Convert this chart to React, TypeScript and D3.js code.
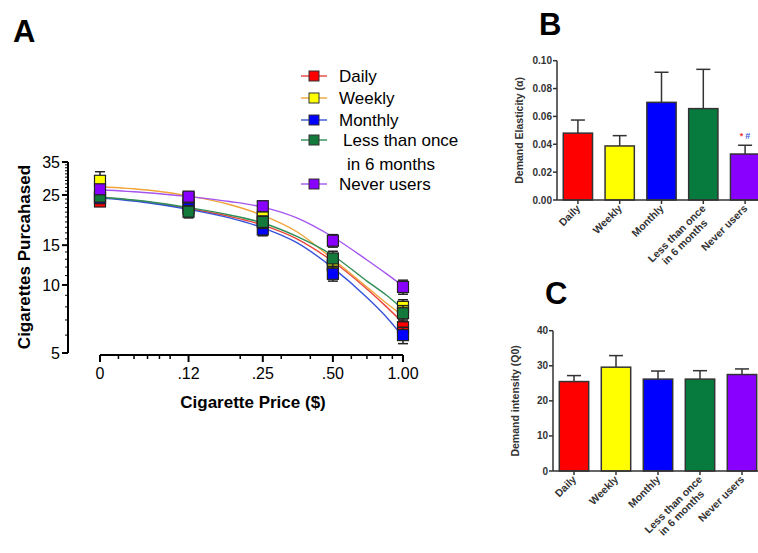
import React from 'react';
import * as d3 from 'd3';

// group names and colours
const groups = ['Daily', 'Weekly', 'Monthly', 'Less than once in 6 months', 'Never users'];
const markerFill = ['#ff0000', '#ffff00', '#0000ff', '#137a3c', '#8a00ff'];
const curveColor = ['#e8453c', '#f0a43a', '#3553d6', '#2f8f55', '#a455f0'];
const barFill = ['#ff0000', '#ffff00', '#0000ff', '#077a3e', '#8a00ff'];

// panel A: observed purchases (means + SEM) at each price
const prices = [0, 0.12, 0.25, 0.5, 1.0];
const priceLabels = ['0', '.12', '.25', '.50', '1.00'];
const dailyPts = [23.4, 22.6, 19.6, 12.3, 6.5];
const weeklyPts = [28.9, 24.3, 20.0, 12.2, 8.0];
const monthlyPts = [24.2, 21.8, 17.6, 11.2, 6.0];
const lessPts = [24.6, 21.1, 19.0, 13.1, 7.5];
const neverPts = [26.5, 24.6, 22.3, 15.7, 9.8];
const dailyErr = [1.0, 1.2, 1.1, 0.9, 0.5];
const weeklyErr = [2.8, 1.2, 1.3, 1.0, 0.6];
const monthlyErr = [1.0, 1.2, 1.1, 0.8, 0.5];
const lessErr = [1.1, 1.3, 1.2, 1.0, 0.6];
const neverErr = [1.3, 1.2, 1.2, 1.0, 0.7];

// panel A: fitted demand curves
const curvePrices = [0.05, 0.08, 0.12, 0.18, 0.25, 0.35, 0.5, 0.7, 0.85, 1.0];
const dailyFit = [24.4, 23.3, 21.8, 20.1, 18.4, 16.0, 12.7, 9.6, 8.0, 6.8];
const weeklyFit = [27.2, 26.3, 24.8, 22.7, 20.3, 17.2, 13.0, 9.8, 8.3, 7.3];
const monthlyFit = [24.3, 23.1, 21.6, 19.8, 17.9, 15.4, 11.9, 8.8, 7.2, 5.9];
const lessFit = [24.5, 23.4, 22.0, 20.4, 18.8, 16.4, 13.5, 10.4, 9.0, 7.8];
const neverFit = [26.4, 25.6, 24.6, 23.4, 22.1, 19.8, 16.3, 12.9, 11.2, 9.9];

const yTicksA = [5, 10, 15, 25, 35];

// panel B: demand elasticity
const elasticity = [0.048, 0.0388, 0.0701, 0.0656, 0.033];
const elasticityErr = [0.0094, 0.0074, 0.0216, 0.0282, 0.0063];
const elasticityTicks = [0, 0.02, 0.04, 0.06, 0.08, 0.1];

// panel C: demand intensity
const intensity = [25.5, 29.6, 26.2, 26.2, 27.5];
const intensityErr = [1.7, 3.3, 2.3, 2.4, 1.6];
const intensityTicks = [0, 10, 20, 30, 40];

const pts = [dailyPts, weeklyPts, monthlyPts, lessPts, neverPts];
const errs = [dailyErr, weeklyErr, monthlyErr, lessErr, neverErr];
const fits = [dailyFit, weeklyFit, monthlyFit, lessFit, neverFit];

const FONT = 'Liberation Sans, Arial, sans-serif';

function PanelA() {
  // "0" sits at the left end of a log price axis
  const x = d3.scaleLog().domain([0.05, 1]).range([100, 403]);
  const px = (p: number) => x(Math.max(p, 0.05));
  const y = d3.scaleLog().domain([5, 35]).range([353, 162]);

  const xMinor = [0.06, 0.07, 0.08, 0.09, 0.1, 0.2, 0.3, 0.4, 0.6, 0.7, 0.8, 0.9];
  const yMinor = d3.range(6, 35).filter(v => !yTicksA.includes(v));

  const line = d3.line<number>()
    .x((_, i) => x(curvePrices[i]))
    .y(d => y(d))
    .curve(d3.curveMonotoneX);

  return (
    <g fontFamily={FONT}>
      <text x={13} y={42} fontSize={31} fontWeight="bold">A</text>

      {/* y axis */}
      <line x1={68} x2={68} y1={y(35)} y2={y(5)} stroke="#000" strokeWidth={2} />
      {yMinor.map(v => (
        <line key={v} x1={65} x2={68} y1={y(v)} y2={y(v)} stroke="#000" strokeWidth={1} />
      ))}
      {yTicksA.map(v => (
        <g key={v}>
          <line x1={62} x2={68} y1={y(v)} y2={y(v)} stroke="#000" strokeWidth={2} />
          <text x={60} y={y(v)} dy="0.35em" fontSize={16} textAnchor="end">{v}</text>
        </g>
      ))}
      <text transform="translate(30,257) rotate(-90)" textAnchor="middle" fontSize={17} fontWeight="bold">
        Cigarettes Purcahased
      </text>

      {/* x axis */}
      <line x1={x(0.05)} x2={x(1)} y1={355} y2={355} stroke="#000" strokeWidth={2} />
      {xMinor.map(v => (
        <line key={v} x1={x(v)} x2={x(v)} y1={355} y2={359} stroke="#000" strokeWidth={1.5} />
      ))}
      {prices.map((p, i) => (
        <g key={p}>
          <line x1={px(p)} x2={px(p)} y1={355} y2={362} stroke="#000" strokeWidth={2} />
          <text x={px(p)} y={379} fontSize={16} textAnchor="middle">{priceLabels[i]}</text>
        </g>
      ))}
      <text x={253} y={408} textAnchor="middle" fontSize={17} fontWeight="bold">Cigarette Price ($)</text>

      {/* fitted curves */}
      {fits.map((f, s) => (
        <path key={s} d={line(f) || ''} fill="none" stroke={curveColor[s]} strokeWidth={1.4} />
      ))}

      {/* error bars and points */}
      {pts.map((series, s) => (
        <g key={s}>
          {series.map((v, i) => {
            const cx = px(prices[i]);
            const hi = y(v + errs[s][i]);
            const lo = y(v - errs[s][i]);
            return (
              <g key={i}>
                <line x1={cx} x2={cx} y1={hi} y2={lo} stroke="#222" strokeWidth={1.5} />
                <line x1={cx - 5} x2={cx + 5} y1={hi} y2={hi} stroke="#222" strokeWidth={1.5} />
                <line x1={cx - 5} x2={cx + 5} y1={lo} y2={lo} stroke="#222" strokeWidth={1.5} />
                <rect x={cx - 5.5} y={y(v) - 5.5} width={11} height={11}
                  fill={markerFill[s]} stroke="#222" strokeWidth={1.2} />
              </g>
            );
          })}
        </g>
      ))}

      {/* legend */}
      {groups.map((g, s) => {
        const cy = [76, 98, 120, 140, 184][s];
        return (
          <g key={g}>
            <line x1={301} x2={327} y1={cy} y2={cy} stroke={curveColor[s]} strokeWidth={1.4} />
            <rect x={309} y={cy - 5} width={10} height={10} fill={markerFill[s]} stroke="#333" strokeWidth={1} />
            {s === 3 ? (
              <text x={343} y={cy} dy="0.35em" fontSize={17}>
                <tspan>Less than once</tspan>
                <tspan x={347} dy={24}>in 6 months</tspan>
              </text>
            ) : (
              <text x={339} y={cy} dy="0.35em" fontSize={17}>{g}</text>
            )}
          </g>
        );
      })}
    </g>
  );
}

function BarPanel(props: {
  letter: string; letterX: number; letterY: number;
  values: number[]; errors: number[]; ticks: number[]; domainMax: number;
  top: number; bottom: number; left: number; right: number;
  title: string; tickFormat: (v: number) => string; note?: boolean;
}) {
  const { values, errors, ticks, top, bottom, left, right } = props;
  const x = d3.scaleBand<string>().domain(groups).range([left, right]).paddingInner(0.3).paddingOuter(0.15);
  const y = d3.scaleLinear().domain([0, props.domainMax]).range([bottom, top]);
  const midY = (top + bottom) / 2;

  return (
    <g fontFamily={FONT}>
      <text x={props.letterX} y={props.letterY} fontSize={31} fontWeight="bold">{props.letter}</text>

      {/* bars */}
      {values.map((v, i) => {
        const g = groups[i];
        const cx = (x(g) as number) + x.bandwidth() / 2;
        const eTop = y(v + errors[i]);
        return (
          <g key={g}>
            <line x1={cx} x2={cx} y1={y(v)} y2={eTop} stroke="#333" strokeWidth={1.5} />
            <line x1={cx - 7} x2={cx + 7} y1={eTop} y2={eTop} stroke="#333" strokeWidth={1.5} />
            <rect x={x(g)} y={y(v)} width={x.bandwidth()} height={bottom - y(v)}
              fill={barFill[i]} stroke="#333" strokeWidth={1.5} />
          </g>
        );
      })}

      {props.note && (() => {
        const g = groups[4];
        const cx = (x(g) as number) + x.bandwidth() / 2;
        const ty = y(values[4] + errors[4]) - 6;
        return (
          <text x={cx} y={ty} fontSize={9} fontWeight="bold" textAnchor="middle">
            <tspan fill="#e33">*</tspan><tspan fill="#3b5bd9" dx={2}>#</tspan>
          </text>
        );
      })()}

      {/* y axis */}
      <line x1={left} x2={left} y1={top} y2={bottom} stroke="#333" strokeWidth={1.5} />
      {ticks.map(t => (
        <g key={t}>
          <line x1={left - 4} x2={left} y1={y(t)} y2={y(t)} stroke="#333" strokeWidth={1.5} />
          <text x={left - 5} y={y(t)} dy="0.35em" fontSize={10} fontWeight="bold" textAnchor="end" fill="#333">
            {props.tickFormat(t)}
          </text>
        </g>
      ))}
      <text transform={`translate(${left - 34},${midY}) rotate(-90)`} textAnchor="middle"
        fontSize={10.5} fontWeight="bold" fill="#333">{props.title}</text>

      {/* x axis */}
      <line x1={left} x2={right} y1={bottom} y2={bottom} stroke="#333" strokeWidth={1.5} />
      {groups.map(g => {
        const cx = (x(g) as number) + x.bandwidth() / 2;
        return (
          <g key={g}>
            <line x1={cx} x2={cx} y1={bottom} y2={bottom + 4} stroke="#333" strokeWidth={1.5} />
            <text transform={`translate(${cx + 3},${bottom + 9}) rotate(-45)`} textAnchor="end"
              fontSize={10.5} fontWeight="bold" fill="#333">
              {g === groups[3] ? (
                <>
                  <tspan x={0}>Less than once</tspan>
                  <tspan x={-9} dy="1.1em">in 6 months</tspan>
                </>
              ) : g}
            </text>
          </g>
        );
      })}
    </g>
  );
}

export default function App() {
  return (
    <svg width={758} height={553} style={{ position: 'absolute', left: 0, top: 0, background: '#fff' }}>
      <rect width={758} height={553} fill="#fff" />
      <PanelA />
      <BarPanel letter="B" letterX={539} letterY={35}
        values={elasticity} errors={elasticityErr} ticks={elasticityTicks} domainMax={0.1}
        top={60.7} bottom={200} left={557} right={766}
        title="Demand Elasticity (α)" tickFormat={d3.format('.2f')} note />
      <BarPanel letter="C" letterX={545} letterY={304}
        values={intensity} errors={intensityErr} ticks={intensityTicks} domainMax={40}
        top={330.7} bottom={471} left={553} right={763}
        title="Demand intensity (Q0)" tickFormat={d3.format('d')} />
    </svg>
  );
}
